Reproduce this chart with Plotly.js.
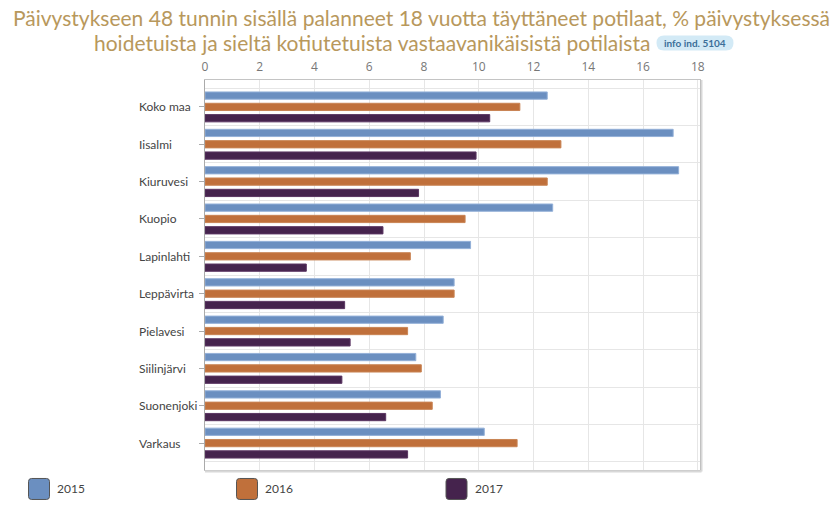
<!DOCTYPE html>
<html>
<head>
<meta charset="utf-8">
<script src="https://cdn.plot.ly/plotly-3.0.1.min.js"></script>
<style>html,body{margin:0;padding:0;background:#fff;}#chart{width:838px;height:511px;}</style>
</head>
<body>
<div id="chart"></div>
<script>
const categories = ['Koko maa','Iisalmi','Kiuruvesi','Kuopio','Lapinlahti','Leppävirta','Pielavesi','Siilinjärvi','Suonenjoki','Varkaus'];
const years = ['2015','2016','2017'];
const values2015 = [12.5, 17.1, 17.3, 12.7, 9.7, 9.1, 8.7, 7.7, 8.6, 10.2];
const values2016 = [11.5, 13.0, 12.5, 9.5, 7.5, 9.1, 7.4, 7.9, 8.3, 11.4];
const values2017 = [10.4, 9.9, 7.8, 6.5, 3.7, 5.1, 5.3, 5.0, 6.6, 7.4];
const xTickValues = [0, 2, 4, 6, 8, 10, 12, 14, 16, 18];
const titleLine1 = 'Päivystykseen 48 tunnin sisällä palanneet 18 vuotta täyttäneet potilaat, % päivystyksessä';
const titleLine2 = 'hoidetuista ja sieltä kotiutetuista vastaavanikäisistä potilaista';
const badgeText = 'info ind. 5104';

const seriesValues = [values2015, values2016, values2017];
const colors = ['#6b8fc0', '#c0703b', '#45234d'];
const outlines = ['#93b0d8', '#c98454', '#5a3562'];

// plot area in pixels
const W = 838, H = 511;
const L = 205, R = 700, T = 80, B = 470.5;
const px = p => (p - L) / (R - L);
const py = p => (B - p) / (B - T);

const traces = years.map((yr, i) => ({
  type: 'bar', orientation: 'h', name: yr,
  y: categories, x: seriesValues[i],
  marker: {color: colors[i], line: {color: outlines[i], width: 1}},
  showlegend: false, hoverinfo: 'x+y'
}));
// helper trace for boundary gridlines
traces.push({type: 'scatter', x: [0], y: [0], yaxis: 'y2', mode: 'markers', marker: {opacity: 0}, showlegend: false, hoverinfo: 'skip'});

const fontTick = 'Lato, Open Sans, sans-serif';
const annotations = [];
categories.forEach(c => annotations.push({
  xref: 'paper', yref: 'y', x: px(137), y: c, xanchor: 'left', yanchor: 'middle',
  text: c, showarrow: false, font: {family: fontTick, size: 12, color: '#444'}
}));
const titleFont = {family: 'Liberation Sans Narrow, Lato, sans-serif', size: 21, color: '#b8985c'};
annotations.push({xref: 'paper', yref: 'paper', x: px(421), y: py(17), xanchor: 'center', yanchor: 'middle', text: titleLine1, showarrow: false, font: titleFont});
annotations.push({xref: 'paper', yref: 'paper', x: px(652), y: py(42), xanchor: 'right', yanchor: 'middle', text: titleLine2, showarrow: false, font: titleFont});
annotations.push({xref: 'paper', yref: 'paper', x: px(695), y: py(43), xanchor: 'center', yanchor: 'middle', text: '<b>' + badgeText + '</b>', showarrow: false, font: {family: 'Liberation Sans Narrow, Lato, sans-serif', size: 10, color: '#3b6f99'}});

const shapes = [];
// badge pill
shapes.push({type: 'path', xref: 'paper', yref: 'paper', xsizemode: 'pixel', ysizemode: 'pixel', xanchor: px(695), yanchor: py(43),
  path: 'M -31,-7.5 L 31,-7.5 Q 38.5,-7.5 38.5,0 Q 38.5,7.5 31,7.5 L -31,7.5 Q -38.5,7.5 -38.5,0 Q -38.5,-7.5 -31,-7.5 Z',
  fillcolor: '#d3eaf6', line: {width: 0}, layer: 'below'});
// legend
const legendSwatchX = [39, 247, 456.5];
years.forEach((yr, i) => {
  shapes.push({type: 'path', xref: 'paper', yref: 'paper', xsizemode: 'pixel', ysizemode: 'pixel', xanchor: px(legendSwatchX[i]), yanchor: py(489.5),
    path: 'M -7.5,-10.5 L 7.5,-10.5 Q 10.5,-10.5 10.5,-7.5 L 10.5,7.5 Q 10.5,10.5 7.5,10.5 L -7.5,10.5 Q -10.5,10.5 -10.5,7.5 L -10.5,-7.5 Q -10.5,-10.5 -7.5,-10.5 Z',
    fillcolor: colors[i], line: {color: '#555', width: 1}});
  annotations.push({xref: 'paper', yref: 'paper', x: px(legendSwatchX[i] + 16), y: py(489.5), xanchor: 'left', yanchor: 'middle',
    text: yr, showarrow: false, font: {family: fontTick, size: 12, color: '#444'}});
});
// shadow on right and bottom frame
shapes.push({type: 'line', xref: 'paper', yref: 'paper', x0: px(701.5), x1: px(701.5), y0: py(T), y1: py(B + 1.5), line: {color: '#d8d8d8', width: 2}});
shapes.push({type: 'line', xref: 'paper', yref: 'paper', x0: px(L), x1: px(701.5), y0: py(B + 1.5), y1: py(B + 1.5), line: {color: '#d8d8d8', width: 2}});

const layout = {
  width: W, height: H,
  margin: {l: L, r: W - R, t: T, b: H - B, pad: 0},
  paper_bgcolor: '#fff', plot_bgcolor: '#fff',
  barmode: 'group', bargap: 0.09, bargroupgap: 0.36,
  showlegend: false,
  xaxis: {
    side: 'top', range: [0, 18.08], tickvals: xTickValues, ticktext: xTickValues.map(String),
    showgrid: true, gridcolor: '#e6e6e6', gridwidth: 1, zeroline: false,
    showline: true, mirror: true, linecolor: '#c4c4c4', linewidth: 1,
    ticks: '', ticklabelstandoff: 3,
    tickfont: {family: 'Open Sans, sans-serif', size: 12, color: '#777'}, fixedrange: true
  },
  yaxis: {
    type: 'category', range: [9.72, -0.72], showticklabels: false,
    ticks: 'outside', ticklen: 5, tickcolor: '#aaa', tickwidth: 1,
    showgrid: false, zeroline: false,
    showline: true, mirror: true, linecolor: '#aaa', linewidth: 1, fixedrange: true
  },
  yaxis2: {
    overlaying: 'y', type: 'linear', range: [9.72, -0.72],
    tickvals: [-0.5, 0.5, 1.5, 2.5, 3.5, 4.5, 5.5, 6.5, 7.5, 8.5, 9.5],
    showgrid: true, gridcolor: '#e6e6e6', showticklabels: false, ticks: '', zeroline: false, showline: false, fixedrange: true
  },
  annotations: annotations,
  shapes: shapes
};

Plotly.newPlot('chart', traces, layout, {displayModeBar: false, staticPlot: true});
</script>
</body>
</html>
